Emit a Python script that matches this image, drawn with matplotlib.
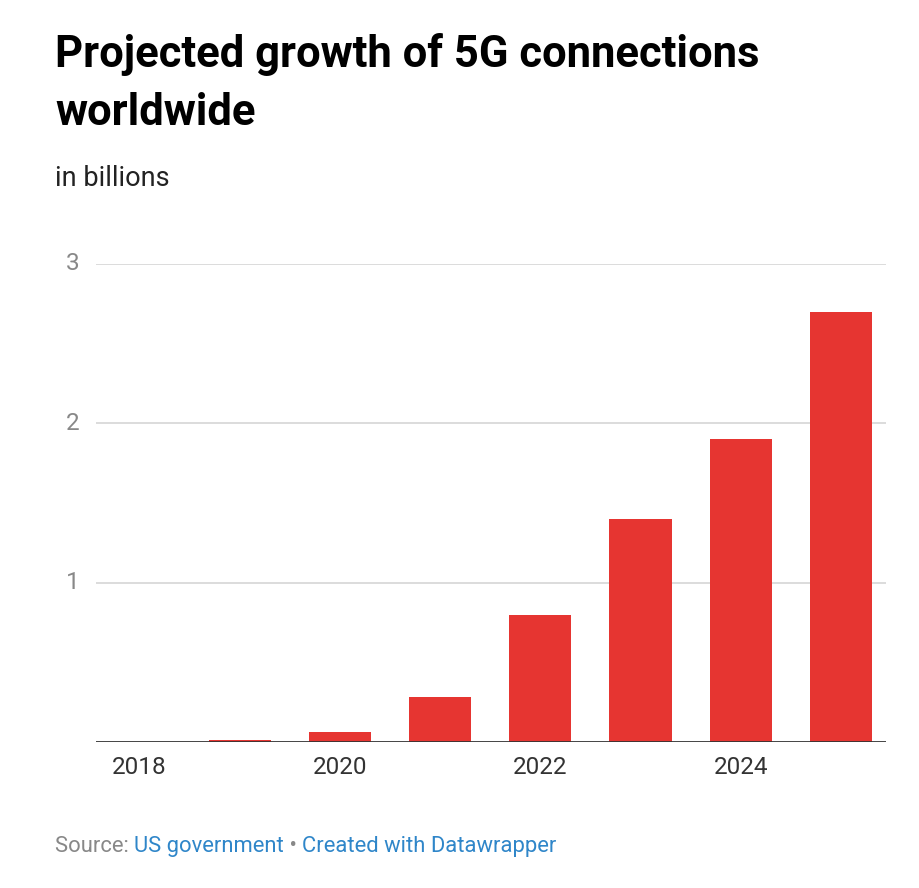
import matplotlib
matplotlib.use("Agg")
import matplotlib.pyplot as plt

# data (billions of 5G connections)
years = [2018, 2019, 2020, 2021, 2022, 2023, 2024, 2025]
connections = [0.0, 0.012, 0.063, 0.28, 0.80, 1.40, 1.90, 2.70]
x_ticks = [2018, 2020, 2022, 2024]
y_ticks = [1, 2, 3]

plt.rcParams['font.family'] = ['Roboto', 'DejaVu Sans']

fig = plt.figure(figsize=(9.2, 8.88), dpi=100)
ax = fig.add_axes([96 / 920, 1 - 742 / 888, 790 / 920, (742 - 264) / 888])

ax.bar(years, connections, width=0.62, color='#e63531', zorder=2)

ax.set_xlim(2017.565, 2025.45)
ax.set_ylim(0, 3)

# gridlines
for y in y_ticks:
    ax.axhline(y, color='#d9d9d9', lw=1.3, zorder=1)
ax.axhline(0, color='#333333', lw=2, zorder=3)

for s in ax.spines.values():
    s.set_visible(False)

ax.set_xticks(x_ticks)
ax.set_xticklabels([str(y) for y in x_ticks])
ax.set_yticks(y_ticks)
ax.set_yticklabels([str(y) for y in y_ticks])
ax.tick_params(axis='x', length=0, pad=10, labelsize=17.5, labelcolor='#333333')
ax.tick_params(axis='y', length=0, pad=12, labelsize=17.5, labelcolor='#888888')
for lbl in ax.get_yticklabels():
    lbl.set_verticalalignment('center')

# titles
fig.text(55 / 920, 1 - 66.7 / 888, 'Projected growth of 5G connections',
         fontsize=31.4, fontweight='bold', color='#000000', va='baseline')
fig.text(55 / 920, 1 - 125 / 888, 'worldwide',
         fontsize=31.4, fontweight='bold', color='#000000', va='baseline')
fig.text(55 / 920, 1 - 186 / 888, 'in billions',
         fontsize=19.5, color='#222222', va='baseline')

# footer
src = fig.text(55 / 920, 1 - 852 / 888, 'Source: ', fontsize=15.8,
               color='#888888', va='baseline')
fig.canvas.draw()
r = fig.canvas.get_renderer()
x0 = src.get_window_extent(r).x1 / fig.bbox.width
t2 = fig.text(x0, 1 - 852 / 888, 'US government', fontsize=15.8,
              color='#2f86c9', va='baseline')
x1 = t2.get_window_extent(r).x1 / fig.bbox.width
t3 = fig.text(x1, 1 - 852 / 888, ' \u2022 ', fontsize=15.8,
              color='#888888', va='baseline')
x2 = t3.get_window_extent(r).x1 / fig.bbox.width
fig.text(x2, 1 - 852 / 888, 'Created with Datawrapper', fontsize=15.8,
         color='#2f86c9', va='baseline')

fig.savefig('out.png', dpi=100, facecolor='white')
